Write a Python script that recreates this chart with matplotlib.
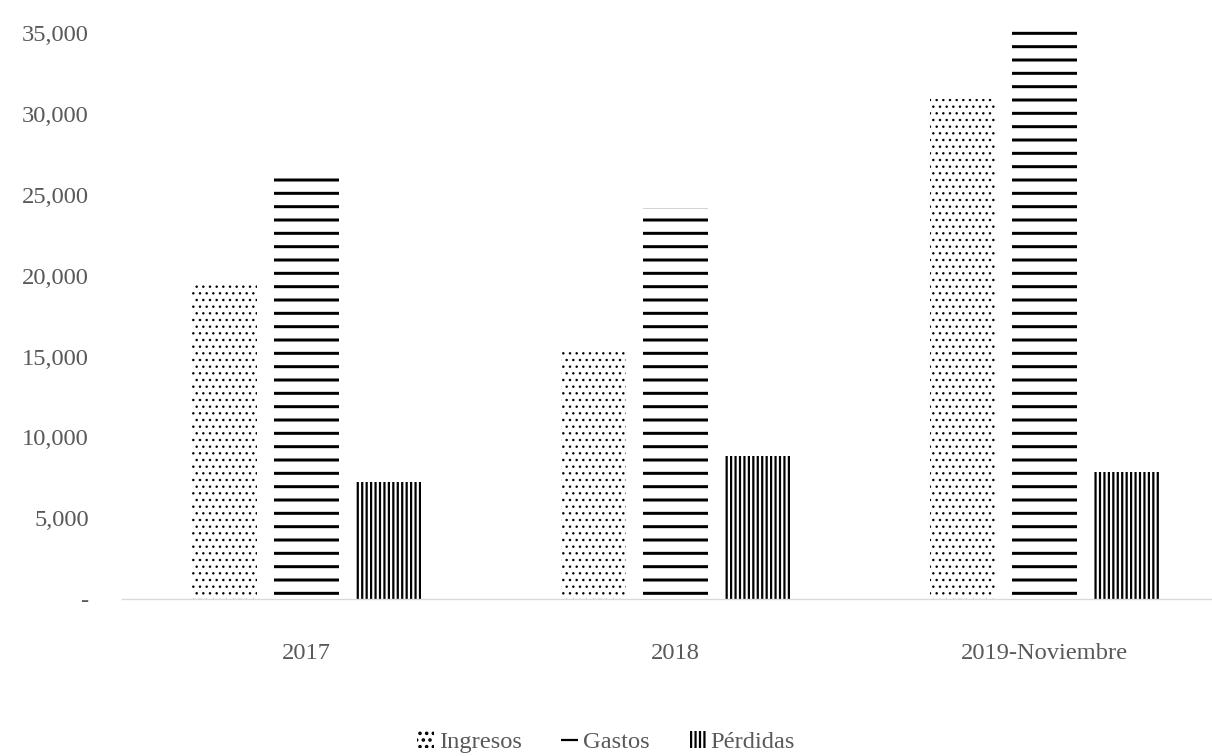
import numpy as np
import matplotlib
matplotlib.use("Agg")
import matplotlib.pyplot as plt
from matplotlib.ticker import FuncFormatter

categorias = ["2017", "2018", "2019-Noviembre"]
ingresos = [19400, 15400, 30950]
gastos = [26550, 24200, 35300]
perdidas = [7250, 8850, 7850]

series = ["Ingresos", "Gastos", "Pérdidas"]

plt.rcParams['font.family'] = ['Liberation Serif', 'DejaVu Serif']
gris = '#595959'

fig = plt.figure(figsize=(12.12 * 100 / 80, 7.56 * 100 / 80), dpi=80)
ax = fig.add_axes([122 / 1212, 1 - 599 / 756, 1107 / 1212, (599 - 22) / 756])

x = np.arange(len(categorias))
ancho = 0.176
paso = 0.222

estilos = [
    (ingresos, '..', 1.0, -paso),
    (gastos, '-', 2.7, 0.0),
    (perdidas, '|||', 2.0, paso),
]
barras = []
for (valores, trama, grosor, desp), nombre in zip(estilos, series):
    plt.rcParams['hatch.linewidth'] = grosor
    b = ax.bar(x + desp, valores, ancho, color='white', edgecolor='black',
               linewidth=0, hatch=trama, label=nombre)
    barras.append(b)

ax.set_xlim(-0.5, 2.5)
ax.set_ylim(0, 35700)
ax.set_yticks(np.arange(0, 35001, 5000))
ax.yaxis.set_major_formatter(FuncFormatter(lambda v, p: '-' if v == 0 else f'{int(v):,}'))
ax.set_xticks(x)
ax.set_xticklabels(categorias)
ax.tick_params(length=0, labelsize=22, colors=gris)
ax.tick_params(axis='x', pad=40)
ax.tick_params(axis='y', pad=30)
for lado in ['top', 'right', 'left']:
    ax.spines[lado].set_visible(False)
ax.spines['bottom'].set_color('#d9d9d9')
ax.spines['bottom'].set_linewidth(1.2)

leg = fig.legend(handles=barras, labels=series, loc='center',
                 bbox_to_anchor=(0.5, 1 - 742 / 756), ncol=3, frameon=False,
                 fontsize=22, handlelength=0.7, handleheight=0.7,
                 handletextpad=0.2, columnspacing=1.6)
for t in leg.get_texts():
    t.set_color(gris)

fig.savefig('out.png', dpi=80)
